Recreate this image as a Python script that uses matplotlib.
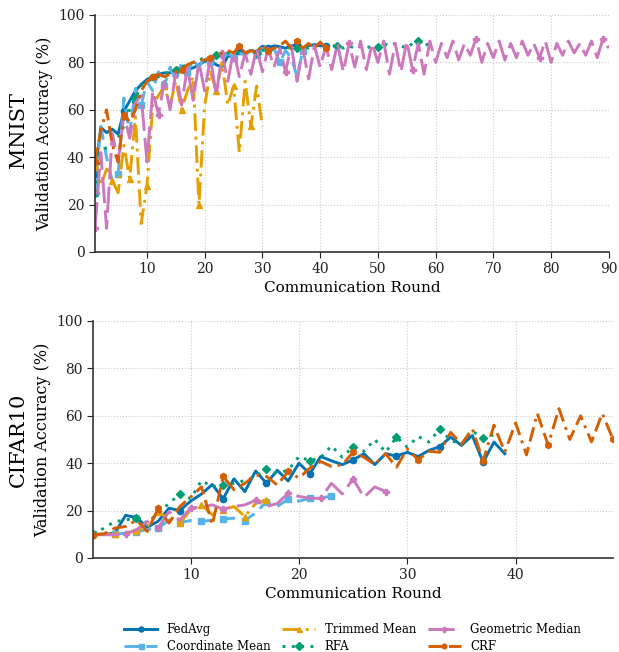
import matplotlib
matplotlib.use("Agg")
import matplotlib.pyplot as plt
import numpy as np

plt.rcParams.update(
    {
        "font.family": "DejaVu Serif",
        "font.size": 10,
        "axes.labelsize": 11,
        "xtick.labelsize": 10,
        "ytick.labelsize": 10,
        "legend.fontsize": 8.5,
    }
)

methods = ["FedAvg", "Coordinate Mean", "Trimmed Mean", "RFA", "Geometric Median", "CRF"]

# MNIST validation accuracy per round (round 1..n)
mnist_fedavg = [33, 52.5, 50.4, 51.8, 49.7, 59.5, 63.7, 68, 70.7, 72.8, 74, 75, 75.6, 75.6, 77,
                77.7, 77, 77.7, 79, 80.5, 81, 79, 78, 82.6, 82.6, 84.7, 84, 85, 84.6, 86.8,
                86, 87, 86.6, 86, 87, 87.3, 86, 87, 87.5, 87, 87]
mnist_coord = [25, 53, 40, 30, 33, 65, 50, 69, 62, 72, 68, 76, 70, 78, 72, 80, 76, 81, 78, 82,
               80, 83, 81, 84, 82, 84, 83, 85, 83, 86, 84, 86, 80, 85, 82, 74, 85]
mnist_trimmed = [40, 28, 35, 30, 25, 45, 31, 57, 12, 28, 62, 66, 70, 62, 72, 60, 68, 74, 20, 62,
                 76, 68, 80, 62, 70, 42, 72, 53, 70, 53]
mnist_rfa = [25, 43, 44, 45, 48, 53, 60, 65, 70, 72, 73, 74, 75, 76, 77, 78, 79, 80, 81, 82,
             82, 83, 83, 84, 84, 85, 84, 85, 84, 85, 86, 85, 86, 86, 86, 86, 87, 86, 87, 87,
             86, 87, 87, 86, 87, 86, 87, 86, 87, 86.5, 88, 87, 88, 87, 86, 88, 89, 87, 88]
mnist_geomed = [10, 42, 10, 50, 38, 58, 48, 63, 66, 38, 68, 58, 72, 60, 76, 62, 78, 64, 80, 68,
                82, 66, 84, 72, 85, 74, 84, 75, 86, 76, 86, 78, 86, 76, 87, 72, 86, 73, 87, 78,
                87, 77, 88, 76, 88, 78, 89, 77, 88, 80, 89, 75, 88, 76, 89, 77, 88, 75, 89, 80,
                88, 82, 89, 81, 88, 83, 90, 80, 88, 82, 89, 81, 88, 82, 89, 83, 88, 82, 89, 80,
                88, 83, 89, 84, 88, 83, 89, 82, 90, 86]
mnist_crf = [38, 51, 60, 45, 38, 58, 55, 60, 68, 72, 74, 75, 74, 75, 76, 77, 79, 80, 81, 81,
             82, 83, 84, 85, 84, 87, 84, 85, 84, 87.5, 85, 86, 87, 89, 86, 89, 86, 88, 86, 88.6,
             86]

# CIFAR10 validation accuracy per round
cifar_fedavg = [9.8, 10, 10.5, 18, 17, 13, 15.5, 21, 20, 24, 27, 31, 25, 33.4, 28, 36.7, 31.5,
                37, 32.5, 40, 35.5, 42.8, 41, 39.4, 41.4, 44, 39.4, 44, 43, 44.6, 42.8, 45.4,
                47, 51, 47.5, 51.7, 40.4, 48.9, 44]
cifar_coord = [10, 10, 10, 10.5, 11, 12, 12.5, 16, 15, 15.8, 15.4, 16, 16.5, 16.8, 15.8, 19,
               23.8, 21.7, 24.8, 24, 25.2, 25.2, 26.2]
cifar_trimmed = [10, 10, 10.2, 10.8, 11.2, 13.3, 19.6, 16.4, 14.7, 20.3, 22.4, 18.2, 20.3, 21.7,
                 17.5, 23, 24.5]
cifar_rfa = [10, 12.6, 15.4, 16, 17, 14.7, 19, 23, 27, 25, 32.7, 30, 31, 31.5, 32.7, 34.4, 37.5,
             35.8, 37, 42.8, 41, 42.4, 47.3, 42.5, 47, 45, 50, 44.6, 51, 46.8, 51.3, 48.9, 54.5,
             49.6, 48, 53.5, 50.6, 52]
cifar_geomed = [9.8, 9.8, 9.8, 10.2, 11.9, 15.4, 12.6, 19.6, 16, 21, 21.5, 22.4, 20.6, 21.7,
                22.4, 24.3, 21.7, 23, 27.3, 26, 25.2, 25.2, 31.5, 27, 33.4, 25.6, 30, 28]
cifar_crf = [9.8, 10.2, 12.6, 13.3, 16, 11.2, 21, 14.7, 21.7, 25.7, 30, 14, 34.4, 28.8, 31.5,
             35, 34.4, 30.8, 36.5, 33.7, 37.9, 40.7, 38.6, 39.4, 44.6, 42.5, 39.4, 44, 38.3,
             46, 41.5, 45, 44.6, 53, 48, 54.5, 41, 56, 44.7, 57, 43.5, 61, 47.7, 63, 50, 60,
             49, 61, 50]

colors = ["#0173B2", "#56B4E9", "#E69F00", "#029E73", "#CC78BC", "#D55E00"]
markers = ["o", "s", "^", "D", "P", "h"]
styles = ["-", (0, (5, 2.5)), (0, (6, 2, 1, 2)), (0, (1, 2.2)), (0, (9, 2.5)), (0, (5, 2, 5, 2, 1, 2))]

datasets = [
    ("MNIST", [mnist_fedavg, mnist_coord, mnist_trimmed, mnist_rfa, mnist_geomed, mnist_crf], 90, range(10, 91, 10)),
    ("CIFAR10", [cifar_fedavg, cifar_coord, cifar_trimmed, cifar_rfa, cifar_geomed, cifar_crf], 49, range(10, 41, 10)),
]

fig = plt.figure(figsize=(6.19, 6.52), dpi=100)
ax_top = fig.add_axes([0.1535, 0.6135, 0.830, 0.3635])
ax_bot = fig.add_axes([0.1505, 0.1442, 0.840, 0.3635])

handles = []
for ax, (name, series, xmax, xticks) in zip([ax_top, ax_bot], datasets):
    for i, vals in enumerate(series):
        rounds = np.arange(1, len(vals) + 1)
        (line,) = ax.plot(
            rounds,
            vals,
            color=colors[i],
            linestyle=styles[i],
            linewidth=2.1,
            marker=markers[i],
            markersize=4.5,
            markevery=max(1, len(vals) // 8),
            label=methods[i],
        )
        if ax is ax_top:
            handles.append(line)
    ax.set_xlim(1, xmax)
    ax.set_ylim(0, 100)
    ax.set_xticks(list(xticks))
    ax.set_yticks(range(0, 101, 20))
    ax.set_xlabel("Communication Round", labelpad=3)
    ax.set_ylabel("Validation Accuracy (%)", labelpad=4, fontsize=11.5)
    ax.grid(True, linestyle=":", linewidth=0.8, color="#cccccc")
    for side in ["top", "right"]:
        ax.spines[side].set_visible(False)
    for side in ["left", "bottom"]:
        ax.spines[side].set_color("#333333")
        ax.spines[side].set_linewidth(1.2)
    ax.tick_params(colors="#222222", length=4)
    ax.set_axisbelow(True)

fig.text(0.03, 0.800, "MNIST", rotation=90, ha="center", va="center", fontsize=15)
fig.text(0.03, 0.326, "CIFAR10", rotation=90, ha="center", va="center", fontsize=15)

fig.legend(
    handles=handles,
    labels=methods,
    ncol=3,
    loc="lower center",
    bbox_to_anchor=(0.57, -0.018),
    frameon=False,
    handlelength=2.8,
    handletextpad=0.8,
    columnspacing=1.0,
    labelspacing=0.35,
    markerscale=0.8,
)

fig.savefig("out.png", dpi=100)
